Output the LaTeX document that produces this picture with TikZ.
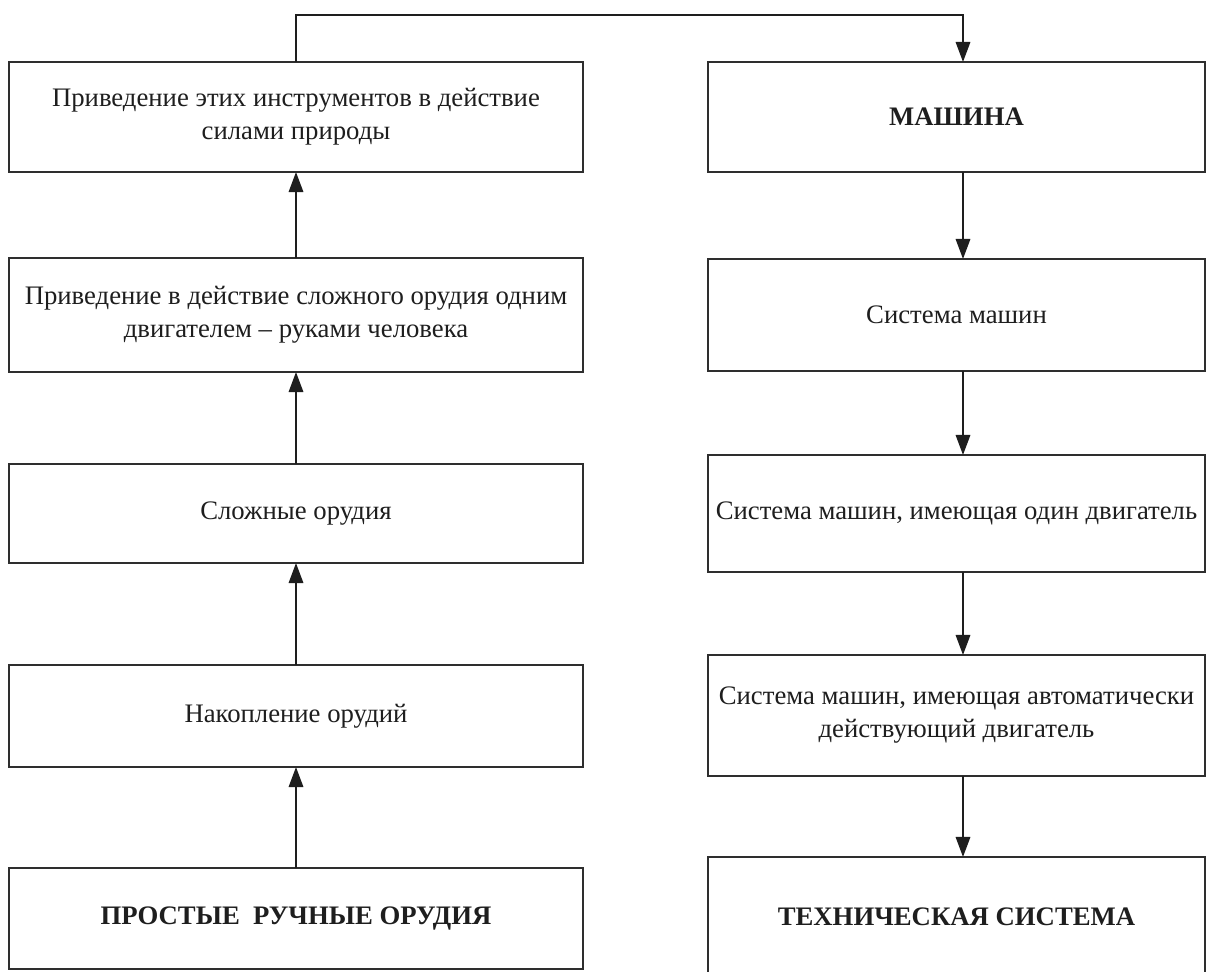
\documentclass[tikz,border=0pt]{standalone}
\usepackage{fontspec}
\setmainfont{Liberation Serif}
\usetikzlibrary{arrows.meta}
\definecolor{ink}{HTML}{1E1E1E}
\definecolor{edge}{HTML}{2E2E2E}
\begin{document}
\begin{tikzpicture}[x=0.025cm,y=-0.025cm,
  box/.style={draw=edge, line width=1.2pt, rectangle, inner sep=0pt, outer sep=0pt,
    align=flush center, text=ink, font=\fontsize{19}{23.5}\selectfont},
  lbox/.style={box, minimum width=14.35cm, text width=14.15cm},
  rbox/.style={box, minimum width=12.425cm, text width=12.225cm},
  arr/.style={draw=ink, line width=1.4pt, -{Triangle[length=0.5cm,width=0.36cm]}}]
\useasboundingbox (0,0) rectangle (1206,972);
\clip (0,0) rectangle (1206,972);
\fill[white] (0,0) rectangle (1206,972);
% left column
\node[lbox, minimum height=2.75cm] (L1) at (296,117) {Приведение этих инструментов в действие\\силами природы};
\node[lbox, minimum height=2.85cm] (L2) at (296,315) {Приведение в действие сложного орудия одним\\двигателем -- руками человека};
\node[lbox, minimum height=2.475cm] (L3) at (296,513.5) {Сложные орудия};
\node[lbox, minimum height=2.55cm] (L4) at (296,716) {Накопление орудий};
\node[lbox, minimum height=2.525cm] (L5) at (296,918.5) {\bfseries ПРОСТЫЕ\ \ РУЧНЫЕ ОРУДИЯ};
% right column
\node[rbox, minimum height=2.75cm] (R1) at (956.5,117) {\bfseries МАШИНА};
\node[rbox, minimum height=2.8cm] (R2) at (956.5,315) {Система машин};
\node[rbox, minimum height=2.925cm] (R3) at (956.5,513.5) {\hbox{Система машин, имеющая один двигатель}};
\node[rbox, minimum height=3.025cm] (R4) at (956.5,715.5) {Система машин, имеющая автоматически\\действующий двигатель};
\node[rbox, minimum height=3.0cm] (R5) at (956.5,917) {\bfseries ТЕХНИЧЕСКАЯ СИСТЕМА};
% helper coordinates
\coordinate (ax) at (963,0);
\coordinate (top) at (296,15);
% left arrows (upwards)
\draw[arr] (L5.north) -- (L4.south);
\draw[arr] (L4.north) -- (L3.south);
\draw[arr] (L3.north) -- (L2.south);
\draw[arr] (L2.north) -- (L1.south);
% top connector
\draw[arr] (L1.north) -- (top) -| (R1.north -| ax);
% right arrows (downwards)
\draw[arr] (R1.south -| ax) -- (R2.north -| ax);
\draw[arr] (R2.south -| ax) -- (R3.north -| ax);
\draw[arr] (R3.south -| ax) -- (R4.north -| ax);
\draw[arr] (R4.south -| ax) -- (R5.north -| ax);
\end{tikzpicture}
\end{document}
